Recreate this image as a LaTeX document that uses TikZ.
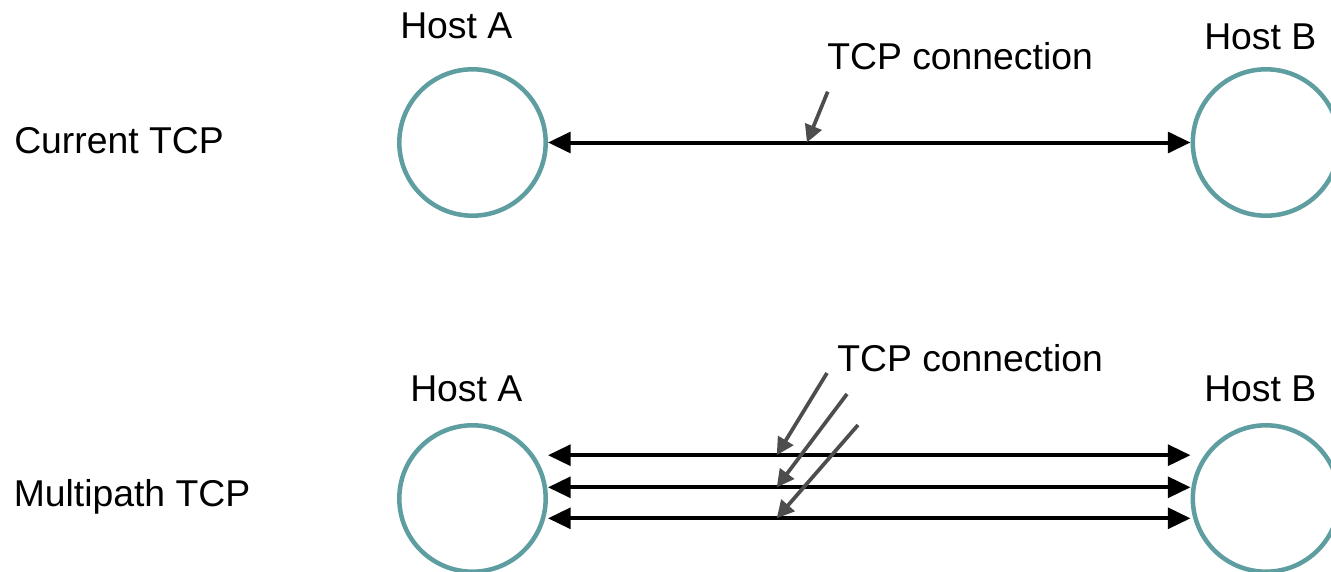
\documentclass[tikz,border=0pt]{standalone}
\usepackage{fontspec}
\setmainfont{Liberation Sans}
\usetikzlibrary{arrows.meta,calc}

\definecolor{hostcol}{RGB}{95,158,160}
\definecolor{ptrcol}{RGB}{77,77,77}

\tikzset{
  host/.style={circle, draw=hostcol, line width=3.4pt, minimum size=109.8pt, inner sep=0pt},
  conn/.style={line width=3pt, {Triangle[length=17pt,width=15.5pt]}-{Triangle[length=17pt,width=15.5pt]}},
  ptr/.style={draw=ptrcol, line width=2.8pt, -{Triangle[length=13pt,width=13pt]}},
  lbl/.style={anchor=base west, inner sep=0pt, font=\fontsize{28}{34}\selectfont}
}

\begin{document}
\begin{tikzpicture}[x=0.75pt,y=0.75pt,yscale=-1,xscale=1]
\useasboundingbox (0,0) rectangle (1331,571);
\clip (0,0) rectangle (1331,571);

%Shape: Circle (hosts)
\node[host] (a1) at (472.5,142.5) {};
\node[host] (b1) at (1266,142.5) {};
\node[host] (a2) at (472.5,498.5) {};
\node[host] (b2) at (1266,498.5) {};

%Straight Lines (single connection)
\draw[conn] (a1.east) -- (b1.west) coordinate[pos=0.403] (p1);
%Straight Lines (three subflows)
\draw[conn] ($(a2.east)+(0,-43.3)$) -- ($(b2.west)+(0,-43.3)$) coordinate[pos=0.356] (p2);
\draw[conn] ($(a2.east)+(0,-11.2)$) -- ($(b2.west)+(0,-11.2)$) coordinate[pos=0.356] (p3);
\draw[conn] ($(a2.east)+(0,19.8)$) -- ($(b2.west)+(0,19.8)$) coordinate[pos=0.356] (p4);

%Straight Lines (pointers)
\coordinate (t1) at (827.7,91.7);
\coordinate (t2) at (827,373);
\coordinate (t3) at (847,394);
\coordinate (t4) at (858,425);
\draw[ptr] (t1) -- (p1);
\draw[ptr] (t2) -- (p2);
\draw[ptr] (t3) -- (p3);
\draw[ptr] (t4) -- (p4);

% Text Node
\node[lbl] (ha1) at (400,38.3) {Host A};
% Text Node
\node[lbl] (hb1) at (1204,49) {Host B};
% Text Node
\node[lbl] (cur) at (14,153.3) {Current TCP};
% Text Node
\node[lbl] (tc1) at (827,69.3) {TCP connection};
% Text Node
\node[lbl] (ha2) at (410,401.7) {Host A};
% Text Node
\node[lbl] (hb2) at (1204,401.7) {Host B};
% Text Node
\node[lbl] (tc2) at (837,371.7) {TCP connection};
% Text Node
\node[lbl] (mp) at (13.5,506.7) {Multipath TCP};

\end{tikzpicture}
\end{document}
